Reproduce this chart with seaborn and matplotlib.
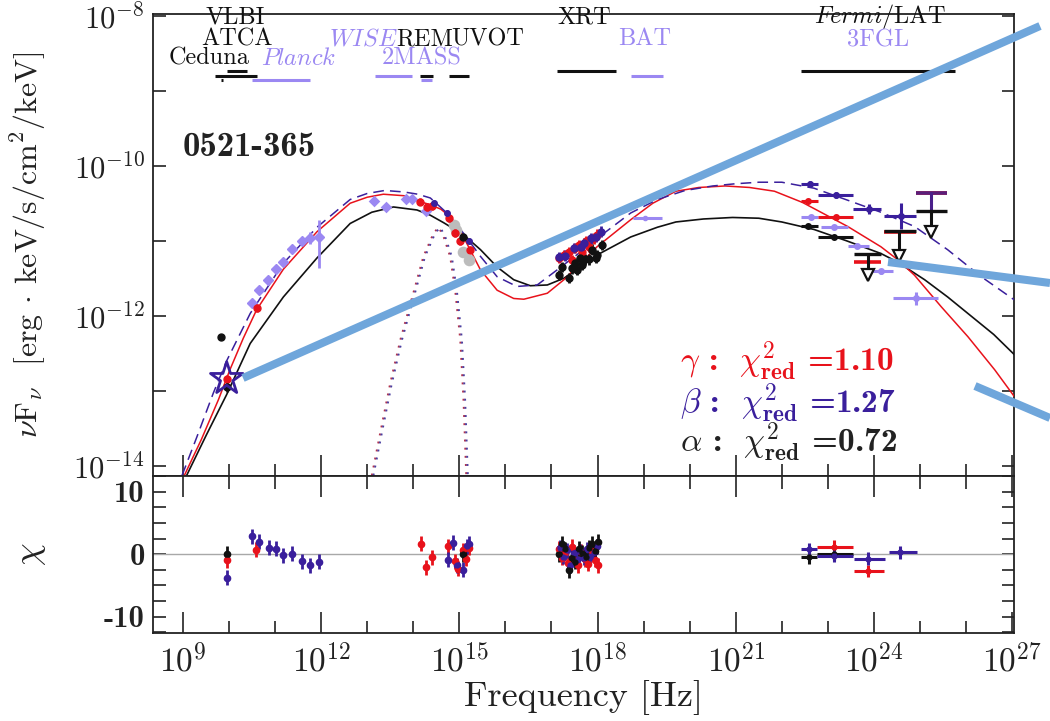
import numpy as np
import pandas as pd
import matplotlib
matplotlib.use("Agg")
import matplotlib.pyplot as plt
import seaborn as sns
from matplotlib.lines import Line2D
from matplotlib.ticker import FixedLocator, FixedFormatter, NullFormatter, NullLocator

# ---------------- model curves: log10(nu/Hz), log10(nuFnu) ----------------
alpha_lognu = [9.08, 9.5, 9.95, 10.46, 11.18, 11.91, 12.63, 13.1, 13.57, 14.08, 14.37, 14.66, 15.09, 15.46,
               15.82, 16.18, 16.54, 16.91, 17.27, 17.63, 17.99, 18.72, 19.3, 19.7, 20.3, 20.93, 21.5, 22.0,
               22.7, 23.4, 24.15, 24.5, 25.1, 25.6, 26.0, 26.6, 27.05]
alpha_logF = [-14.13, -13.6, -13.05, -12.37, -11.75, -11.23, -10.77, -10.62, -10.55, -10.59, -10.66, -10.76,
              -10.92, -11.12, -11.35, -11.52, -11.60, -11.59, -11.50, -11.35, -11.19, -10.95, -10.82, -10.75,
              -10.71, -10.69, -10.70, -10.75, -10.85, -11.0, -11.17, -11.28, -11.52, -11.75, -11.95, -12.25, -12.52]

gamma_lognu = [9.03, 9.4, 9.77, 10.02, 10.31, 10.60, 11.18, 11.91, 12.63, 13.0, 13.35, 13.8, 14.1, 14.37,
               14.6, 14.80, 15.09, 15.46, 15.82, 16.18, 16.40, 16.91, 17.27, 17.63, 17.99, 18.72, 19.2, 19.7,
               20.2, 20.77, 21.3, 21.84, 22.45, 23.43, 24.15, 24.51, 24.88, 25.46, 26.04, 26.62, 27.05]
gamma_logF = [-14.13, -13.65, -13.12, -12.72, -12.30, -11.92, -11.38, -10.88, -10.50, -10.42, -10.38, -10.40,
              -10.47, -10.52, -10.58, -10.68, -10.95, -11.39, -11.66, -11.77, -11.78, -11.70, -11.52, -11.30,
              -11.08, -10.72, -10.50, -10.34, -10.29, -10.27, -10.29, -10.34, -10.49, -10.81, -11.08, -11.25,
              -11.46, -11.88, -12.28, -12.72, -13.08]

beta_lognu = [8.98, 9.3, 9.66, 9.95, 10.46, 11.18, 11.91, 12.63, 13.0, 13.38, 13.8, 14.1, 14.37, 14.73, 15.09,
              15.46, 15.82, 16.25, 16.69, 17.12, 17.63, 18.14, 18.72, 19.3, 19.9, 20.5, 21.0, 21.5, 22.0, 22.7,
              23.43, 24.15, 24.88, 25.6, 26.33, 27.05]
beta_logF = [-14.13, -13.62, -13.03, -12.60, -11.97, -11.30, -10.82, -10.45, -10.37, -10.33, -10.35, -10.38,
             -10.43, -10.63, -10.90, -11.21, -11.48, -11.61, -11.59, -11.39, -11.15, -10.90, -10.63, -10.45,
             -10.33, -10.27, -10.24, -10.22, -10.22, -10.30, -10.46, -10.62, -10.81, -11.12, -11.48, -11.79]

thermal_lognu = [13.10, 13.28, 13.50, 13.72, 14.0, 14.22, 14.44, 14.55, 14.66, 14.80, 14.91, 15.02, 15.09, 15.15]
thermal_logF = [-14.13, -13.57, -12.90, -12.32, -11.70, -11.21, -10.90, -10.82, -10.95, -11.21, -11.66, -12.32,
                -13.12, -14.13]

# ---------------- SED data points ----------------
planck_lognu = [10.49, 10.66, 10.85, 11.02, 11.18, 11.36, 11.58, 11.76, 11.96]
planck_logF = [-11.83, -11.66, -11.52, -11.38, -11.28, -11.11, -11.01, -10.96, -10.95]
planck_err_lo = [0.03, 0.03, 0.03, 0.03, 0.03, 0.03, 0.03, 0.08, 0.42]
planck_err_hi = [0.03, 0.03, 0.03, 0.03, 0.03, 0.03, 0.03, 0.08, 0.23]

ir_lognu = [13.15, 13.41, 13.85, 13.97, 14.28]
ir_logF = [-10.47, -10.55, -10.45, -10.45, -10.61]

red_pts_lognu = [9.95, 10.60, 14.15, 14.30, 14.40, 14.77, 14.91, 15.02, 15.24]
red_pts_logF = [-12.84, -11.90, -10.48, -10.55, -10.54, -10.70, -10.90, -11.01, -11.12]
blue_pts_lognu = [14.44, 14.73, 15.20]
blue_pts_logF = [-10.50, -10.63, -11.01]
black_pts_lognu = [9.83, 9.95, 15.09]
black_pts_logF = [-12.28, -12.95, -10.95]
uvot_gray_lognu = [14.88, 14.92, 15.09, 15.20]
uvot_gray_logF = [-10.79, -10.86, -11.15, -11.26]
star_lognu = [9.95]
star_logF = [-12.84]

xrt_black_lognu = [17.16, 17.23, 17.38, 17.45, 17.50, 17.56, 17.62, 17.67, 17.72, 17.81, 17.88, 17.96, 17.99, 18.10]
xrt_black_logF = [-11.46, -11.35, -11.50, -11.37, -11.30, -11.39, -11.23, -11.32, -11.25, -11.25, -11.12, -11.23,
                  -11.19, -11.06]
xrt_red_lognu = [17.16, 17.27, 17.38, 17.45, 17.52, 17.59, 17.67, 17.74, 17.81, 17.92, 17.99]
xrt_red_logF = [-11.23, -11.19, -11.15, -11.26, -11.10, -11.06, -11.15, -11.01, -11.08, -10.97, -10.92]
xrt_blue_lognu = [17.16, 17.30, 17.49, 17.63, 17.70, 17.85, 17.96, 18.07]
xrt_blue_logF = [-11.22, -11.20, -11.10, -11.08, -11.03, -10.97, -10.95, -10.88]

bat_lognu = [19.02]
bat_logF = [-10.70]
bat_lo = [18.78]
bat_hi = [19.39]

# Fermi/LAT detections: centre, band low, band high, log flux
lat_blue_lognu = [22.62, 23.17, 23.90, 24.59]
lat_blue_lo = [22.41, 22.78, 23.54, 24.22]
lat_blue_hi = [22.78, 23.54, 24.15, 24.91]
lat_blue_logF = [-10.24, -10.39, -10.58, -10.67]
lat_blue_yerr = [0.03, 0.04, 0.07, 0.17]
lat_red_lognu = [22.56, 23.17]
lat_red_lo = [22.41, 22.78]
lat_red_hi = [22.78, 23.54]
lat_red_logF = [-10.47, -10.68]
lat_black_lognu = [22.56, 23.14]
lat_black_lo = [22.41, 22.78]
lat_black_hi = [22.78, 23.54]
lat_black_logF = [-10.81, -10.95]
fgl_lognu = [22.63, 23.14, 23.64, 24.15, 24.91]
fgl_lo = [22.41, 22.85, 23.43, 23.93, 24.41]
fgl_hi = [22.78, 23.43, 23.90, 24.41, 25.38]
fgl_logF = [-10.69, -10.82, -11.07, -11.41, -11.77]
fgl_yerr = [0.02, 0.02, 0.02, 0.03, 0.09]

# upper limits: centre, band low, band high, level, arrow tip
ul_black_lognu = [23.86, 24.55, 25.24]
ul_black_lo = [23.57, 24.22, 24.91]
ul_black_hi = [24.15, 24.91, 25.58]
ul_black_logF = [-11.18, -10.87, -10.60]
ul_black_tip = [-11.46, -11.20, -10.88]
ul_red_lognu = [23.86, 24.55, 25.24]
ul_red_lo = [23.57, 24.22, 24.91]
ul_red_hi = [24.15, 24.91, 25.58]
ul_red_logF = [-11.29, -10.88, -10.36]
ul_blue_lognu = [25.24]
ul_blue_lo = [24.91]
ul_blue_hi = [25.58]
ul_blue_logF = [-10.36]
ul_blue_tip = [-10.64]

# instrument coverage bars
inst_lo = [9.95, 9.70, 9.82, 10.49, 13.17, 14.14, 14.17, 14.77, 17.12, 18.72, 22.41]
inst_hi = [10.38, 10.60, 9.86, 11.76, 13.97, 14.43, 14.41, 15.20, 18.39, 19.41, 25.75]
inst_level = [-8.74, -8.80, -8.86, -8.86, -8.80, -8.80, -8.86, -8.80, -8.74, -8.80, -8.74]
inst_kind = ["k", "k", "k", "p", "p", "k", "p", "k", "k", "p", "k"]

# ---------------- residuals (chi) ----------------
res_blue_lognu = [9.95, 10.49, 10.66, 10.87, 11.02, 11.18, 11.36, 11.58, 11.76, 11.96,
                  14.75, 14.86, 14.95, 15.09, 15.17, 15.22,
                  17.18, 17.26, 17.33, 17.40, 17.48, 17.55, 17.62, 17.70, 17.77, 17.84, 17.92, 17.98]
res_blue_chi = [-3.8, 2.9, 2.0, 1.0, 0.9, -0.2, 0.1, -1.1, -1.8, -1.2,
                -0.9, 1.8, -1.8, -2.5, 1.3, 1.7,
                1.0, -0.4, 0.6, -1.8, 0.2, -1.0, 0.5, -0.6, 0.8, -0.4, 0.3, 1.3]
res_red_lognu = [9.95, 10.59, 14.17, 14.28, 14.41, 14.75, 14.90, 14.96, 15.09, 15.15, 15.20,
                 17.16, 17.22, 17.30, 17.36, 17.44, 17.50, 17.58, 17.64, 17.72, 17.80, 17.86, 17.94, 18.00]
res_red_chi = [-1.0, 0.7, 1.7, -2.1, -0.5, 1.3, -1.1, -2.3, 0.6, -0.7, 1.0,
               0.9, -0.6, 0.3, -1.4, 1.2, -0.9, -1.8, 0.4, -0.8, -1.5, 0.6, -0.9, -1.8]
res_black_lognu = [9.95, 15.08, 17.16, 17.23, 17.30, 17.38, 17.45, 17.52, 17.60, 17.67, 17.74, 17.81, 17.88,
                   17.95, 18.02]
res_black_chi = [0.1, 0.0, 0.0, 1.7, 0.8, -2.6, -0.6, -1.2, 0.9, 0.2, -0.4, 1.0, 1.7, 0.5, 2.0]

res_lat_blue_lognu = [22.58, 23.14, 23.88, 24.57]
res_lat_blue_lo = [22.41, 22.76, 23.57, 24.33]
res_lat_blue_hi = [22.76, 23.54, 24.25, 24.93]
res_lat_blue_chi = [0.75, -0.3, -0.7, 0.3]
res_lat_red_lognu = [23.14, 23.88]
res_lat_red_lo = [22.76, 23.57]
res_lat_red_hi = [23.54, 24.22]
res_lat_red_chi = [1.2, -2.7]
res_lat_black_lognu = [22.58, 23.14]
res_lat_black_lo = [22.41, 22.76]
res_lat_black_hi = [22.76, 23.54]
res_lat_black_chi = [-0.5, 0.0]

# ---------------- labels ----------------
x_tick_labels = [r"$10^{9}$", r"$10^{12}$", r"$10^{15}$", r"$10^{18}$", r"$10^{21}$", r"$10^{24}$", r"$10^{27}$"]
y_tick_labels = [r"$\mathbf{10^{-14}}$", "", r"$\mathbf{10^{-12}}$", "", r"$\mathbf{10^{-10}}$", "",
                 r"$\mathbf{10^{-8}}$"]
chi_tick_labels = ["-10", "0", "10"]
source_name = "0521-365"
fit_labels = [r"$\gamma$ :  $\chi^2_{\mathbf{red}}$ =1.10",
              r"$\beta$ :  $\chi^2_{\mathbf{red}}$ =1.27",
              r"$\alpha$ :  $\chi^2_{\mathbf{red}}$ =0.72"]

# ---------------- style ----------------
sns.set_theme(style="ticks")
plt.rcParams["font.family"] = ["cmr10", "DejaVu Serif"]
plt.rcParams["mathtext.fontset"] = "cm"
plt.rcParams["axes.unicode_minus"] = False
plt.rcParams["axes.formatter.use_mathtext"] = True
plt.rcParams["axes.linewidth"] = 1.3
plt.rcParams["axes.edgecolor"] = "#222222"

RED = "#e8121b"
BLUE = "#3a1f9c"
LPUR = "#9b88f2"
BLACK = "#111111"
GRAY = "#bcbcbc"
POINTER = "#6fa6db"

W, H = 1050, 721
fig = plt.figure(figsize=(W / 100, H / 100), dpi=100)
L, R = 153 / W, 1014 / W
ax = fig.add_axes([L, 1 - 476 / H, R - L, (476 - 14) / H])
axr = fig.add_axes([L, 1 - 633 / H, R - L, (633 - 476) / H])

P = lambda v: 10.0 ** np.asarray(v, dtype=float)

for a in (ax, axr):
    a.set_xscale("log")
    a.set_xlim(P(8.35), P(27.04))
    a.set_facecolor("white")
ax.set_yscale("log")
ax.set_ylim(P(-14.137), P(-7.977))
axr.set_ylim(-12.6, 12.5)


def curve(lognu, logF, color, ls, lw, zorder=3, **kw):
    df = pd.DataFrame({"nu": P(lognu), "F": P(logF)})
    sns.lineplot(data=df, x="nu", y="F", ax=ax, color=color, linestyle=ls, linewidth=lw,
                 sort=False, estimator=None, legend=False, zorder=zorder, **kw)


curve(thermal_lognu, thermal_logF, "#b0334f", (0, (1, 3.2)), 1.4, zorder=2)
curve(list(np.array(thermal_lognu) + 0.035), thermal_logF, "#4a3fa0", (0, (1, 3.2)), 1.4, zorder=2)
curve(alpha_lognu, alpha_logF, BLACK, "-", 1.2)
curve(gamma_lognu, gamma_logF, RED, "-", 1.1)
curve(beta_lognu, beta_logF, BLUE, (0, (7, 4)), 1.1)


def logerr(logF, lo, hi):
    F = P(logF)
    return np.vstack([F - F * 10.0 ** (-np.asarray(lo)), F * 10.0 ** np.asarray(hi) - F])


# instrument coverage bars and names
for lo, hi, lev, kind in zip(inst_lo, inst_hi, inst_level, inst_kind):
    ax.plot(P([lo, hi]), P([lev, lev]), color=BLACK if kind == "k" else LPUR, lw=2.2,
            solid_capstyle="butt", zorder=4)

inst_text = [("VLBI", 9.50, -8.02, BLACK), ("ATCA", 9.40, -8.31, BLACK), ("Ceduna", 8.70, -8.57, BLACK),
             (r"$\mathit{Planck}$", 10.70, -8.57, LPUR), (r"$\mathit{WISE}$", 12.16, -8.31, LPUR),
             ("REM", 13.63, -8.31, BLACK), ("UVOT", 14.82, -8.31, BLACK), ("2MASS", 13.32, -8.57, LPUR),
             ("XRT", 17.13, -8.02, BLACK), ("BAT", 18.45, -8.31, LPUR),
             (r"$\mathit{Fermi}$/LAT", 22.70, -8.01, BLACK), ("3FGL", 23.42, -8.33, LPUR)]
for txt, lx, ly, col in inst_text:
    ax.text(P(lx), P(ly), txt, color=col, fontsize=17.5, ha="left", va="center", zorder=5)

ax.text(P(9.0), P(-9.76), source_name, fontsize=25, fontfamily="cmb10", color="#222222",
        ha="left", va="center")

# radio / IR / optical points
ax.errorbar(P(planck_lognu), P(planck_logF), yerr=logerr(planck_logF, planck_err_lo, planck_err_hi),
            fmt="D", ms=5, color=LPUR, ecolor=LPUR, elinewidth=2, capsize=0, zorder=6)
sns.scatterplot(x=P(ir_lognu), y=P(ir_logF), ax=ax, marker="D", s=35, color=LPUR, edgecolor=LPUR,
                linewidth=0, zorder=6, legend=False)
sns.scatterplot(x=P(uvot_gray_lognu), y=P(uvot_gray_logF), ax=ax, marker="o", s=70, color=GRAY,
                edgecolor=GRAY, linewidth=0, zorder=5, legend=False)
ax.errorbar(P(red_pts_lognu), P(red_pts_logF), yerr=logerr(red_pts_logF, [0.05] * 9, [0.05] * 9),
            fmt="o", ms=5, color=RED, ecolor=RED, elinewidth=1.8, capsize=0, zorder=7)
ax.errorbar(P(blue_pts_lognu), P(blue_pts_logF), yerr=logerr(blue_pts_logF, [0.04] * 3, [0.04] * 3),
            fmt="o", ms=4, color=BLUE, ecolor=BLUE, elinewidth=1.8, capsize=0, zorder=7)
ax.errorbar(P(black_pts_lognu), P(black_pts_logF), yerr=logerr(black_pts_logF, [0.03, 0.07, 0.04], [0.03, 0.07, 0.04]),
            fmt="o", ms=5, color=BLACK, ecolor=BLACK, elinewidth=1.8, capsize=0, zorder=7)
sns.scatterplot(x=P(star_lognu), y=P(star_logF), ax=ax, marker="*", s=600, facecolor="none",
                edgecolor=BLUE, linewidth=2.0, zorder=8, legend=False)

# X-rays
for ln, lf, col in ((xrt_red_lognu, xrt_red_logF, RED), (xrt_blue_lognu, xrt_blue_logF, BLUE),
                    (xrt_black_lognu, xrt_black_logF, BLACK)):
    n = len(ln)
    ax.errorbar(P(ln), P(lf), yerr=logerr(lf, [0.07] * n, [0.07] * n), fmt="o", ms=5, color=col,
                ecolor=col, elinewidth=2, capsize=0, zorder=7)
ax.errorbar(P(bat_lognu), P(bat_logF), xerr=[P(bat_lognu) - P(bat_lo), P(bat_hi) - P(bat_lognu)],
            yerr=logerr(bat_logF, [0.03], [0.03]), fmt="o", ms=3, color=LPUR, ecolor=LPUR, elinewidth=2.2,
            capsize=0, zorder=6)

# gamma rays


def band_points(ln, lo, hi, lf, col, yerr=None, ms=4, lw=2.2):
    n = len(ln)
    ye = logerr(lf, yerr, yerr) if yerr is not None else logerr(lf, [0.02] * n, [0.02] * n)
    ax.errorbar(P(ln), P(lf), xerr=[P(ln) - P(lo), P(hi) - P(ln)], yerr=ye, fmt="o", ms=ms, color=col,
                ecolor=col, elinewidth=lw, capsize=0, zorder=7)


band_points(fgl_lognu, fgl_lo, fgl_hi, fgl_logF, LPUR, yerr=fgl_yerr)
band_points(lat_red_lognu, lat_red_lo, lat_red_hi, lat_red_logF, RED)
band_points(lat_black_lognu, lat_black_lo, lat_black_hi, lat_black_logF, BLACK)
band_points(lat_blue_lognu, lat_blue_lo, lat_blue_hi, lat_blue_logF, BLUE, yerr=lat_blue_yerr)

for ln, lo, hi, lf in zip(ul_red_lognu, ul_red_lo, ul_red_hi, ul_red_logF):
    ax.plot(P([lo, hi]), P([lf, lf]), color=RED, lw=2.6, solid_capstyle="butt", zorder=7)
for ln, lo, hi, lf, tip in zip(ul_blue_lognu, ul_blue_lo, ul_blue_hi, ul_blue_logF, ul_blue_tip):
    ax.plot(P([lo, hi]), P([lf, lf]), color="#5a1f7a", lw=2.6, solid_capstyle="butt", zorder=7)
    ax.plot(P([ln, ln]), P([lf, tip]), color="#4a1f8a", lw=2.2, zorder=7)
for ln, lo, hi, lf, tip in zip(ul_black_lognu, ul_black_lo, ul_black_hi, ul_black_logF, ul_black_tip):
    ax.plot(P([lo, hi]), P([lf, lf]), color=BLACK, lw=2.4, solid_capstyle="butt", zorder=8)
    ax.plot(P([ln, ln]), P([lf, tip]), color=BLACK, lw=2.2, zorder=8)
    ax.plot(P([ln]), P([tip]), marker="v", ms=8, mfc="white", mec=BLACK, mew=1.6, zorder=9)

for (txt, y), col in zip(zip(fit_labels, [-12.60, -13.17, -13.68]), [RED, BLUE, "#222222"]):
    ax.text(P(19.80), P(y), txt, color=col, fontsize=24, fontfamily="cmb10", ha="left", va="center",
            zorder=9)

# ---------------- residual panel ----------------
axr.axhline(0, color="#a8a8a8", lw=1.0, zorder=1)
for ln, ch, col in ((res_red_lognu, res_red_chi, RED), (res_blue_lognu, res_blue_chi, BLUE),
                    (res_black_lognu, res_black_chi, BLACK)):
    axr.errorbar(P(ln), ch, yerr=1.2, fmt="o", ms=4.5, color=col, ecolor=col, elinewidth=2, capsize=0,
                 zorder=5)
    sns.scatterplot(x=P(ln), y=ch, ax=axr, s=20, color=col, linewidth=0, zorder=6, legend=False)
for ln, lo, hi, ch, col in ((res_lat_red_lognu, res_lat_red_lo, res_lat_red_hi, res_lat_red_chi, RED),
                            (res_lat_black_lognu, res_lat_black_lo, res_lat_black_hi, res_lat_black_chi, BLACK),
                            (res_lat_blue_lognu, res_lat_blue_lo, res_lat_blue_hi, res_lat_blue_chi, BLUE)):
    axr.errorbar(P(ln), ch, xerr=[P(ln) - P(lo), P(hi) - P(ln)], yerr=1.0, fmt="o", ms=3.5, color=col,
                 ecolor=col, elinewidth=2.2, capsize=0, zorder=6)

# ---------------- ticks & labels ----------------
for a in (ax, axr):
    a.xaxis.set_major_locator(FixedLocator(P(np.arange(9, 28, 3))))
    a.xaxis.set_minor_locator(FixedLocator(P(np.arange(9, 28, 1))))
    a.xaxis.set_minor_formatter(NullFormatter())
    a.tick_params(axis="x", which="major", direction="in", length=15, width=1.2, color="#222222")
    a.tick_params(axis="x", which="minor", direction="in", length=9, width=1.2, color="#222222")
ax.tick_params(axis="x", which="both", top=False, bottom=True, labelbottom=False)
axr.tick_params(axis="x", which="both", top=True, bottom=True, labelbottom=True, pad=7, labelsize=24,
                labelcolor="#222222")
axr.xaxis.set_major_formatter(FixedFormatter(x_tick_labels))

ax.yaxis.set_major_locator(FixedLocator(P(np.arange(-14, -7))))
ax.yaxis.set_minor_locator(NullLocator())
ax.yaxis.set_major_formatter(FixedFormatter(y_tick_labels))
ax.tick_params(axis="y", which="major", direction="in", length=9, width=1.2, left=True, right=True,
               labelsize=22, pad=6, color="#222222", labelcolor="#222222")

axr.yaxis.set_major_locator(FixedLocator([-10, 0, 10]))
axr.yaxis.set_minor_locator(FixedLocator([-12.5, -7.5, -5, -2.5, 2.5, 5, 7.5, 12.5]))
axr.yaxis.set_major_formatter(FixedFormatter(chi_tick_labels))
axr.tick_params(axis="y", which="both", direction="in", length=9, width=1.2, left=True, right=True,
                labelsize=22, pad=6, color="#222222", labelcolor="#222222")
for lab in axr.get_yticklabels():
    lab.set_fontfamily("cmb10")

ax.set_xlabel("")
ax.set_ylabel(r"$\nu\mathrm{F}_\nu$  [erg $\cdot$ keV/s/cm$^2$/keV]", fontsize=23, color="#222222")
ax.yaxis.set_label_coords(-0.122, 0.5)
axr.set_ylabel(r"$\chi$", fontsize=26, color="#222222", rotation=90)
axr.yaxis.set_label_coords(-0.122, 0.5)
axr.set_xlabel("Frequency [Hz]", fontsize=26, color="#222222")
axr.xaxis.label.set_va("center")
axr.xaxis.set_label_coords(0.5, -0.41)

# ---------------- pointer overlay lines ----------------
pointer_px = [((243, 378), (1040, 26)), ((888, 262), (1050, 283)), ((975, 386), (1050, 418))]
for (x0, y0), (x1, y1) in pointer_px:
    fig.add_artist(Line2D([x0 / W, x1 / W], [1 - y0 / H, 1 - y1 / H], transform=fig.transFigure,
                          color=POINTER, lw=5.8, solid_capstyle="butt", zorder=20))

fig.savefig("out.png", dpi=100, facecolor="white")
